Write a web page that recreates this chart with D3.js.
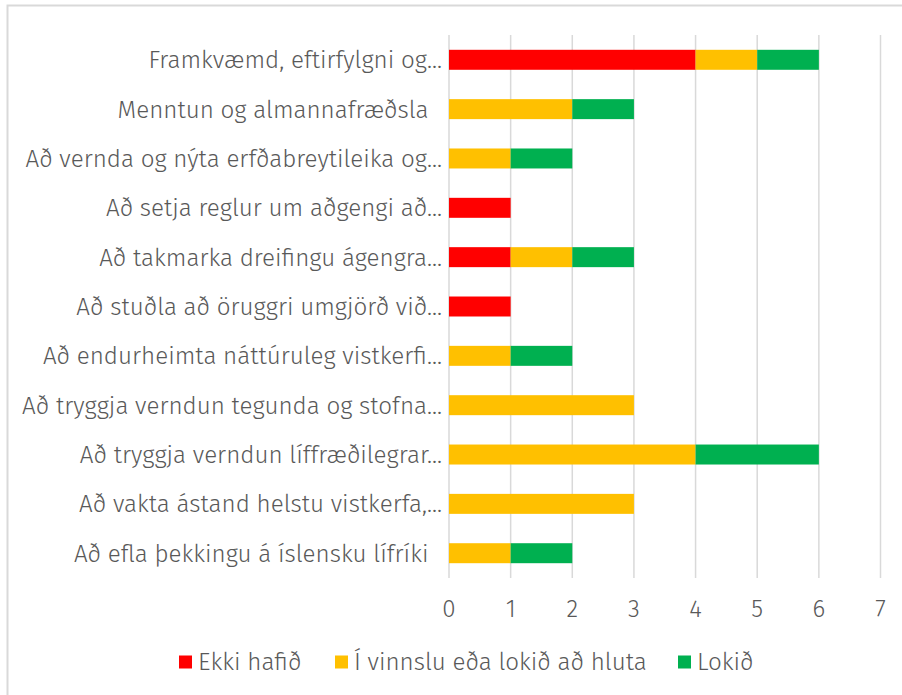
<!DOCTYPE html>
<html>
<head>
<meta charset="utf-8">
<script src="https://cdn.jsdelivr.net/npm/d3@7"></script>
<style>
  body { margin: 0; background: #fff; }
  svg { font-family: "Fira Sans", "Open Sans", "Noto Sans", sans-serif; }
  svg text { white-space: pre; }
</style>
</head>
<body>
<div class="chart"></div>
<script>
const categories = [
    "Framkvæmd, eftirfylgni og...",
    "Menntun og almannafræðsla  ",
    "Að vernda og nýta erfðabreytileika og...",
    "Að setja reglur um aðgengi að...",
    "Að takmarka dreifingu ágengra...",
    "Að stuðla að öruggri umgjörð við...",
    "Að endurheimta náttúruleg vistkerfi...",
    "Að tryggja verndun tegunda og stofna...",
    "Að tryggja verndun líffræðilegrar...",
    "Að vakta ástand helstu vistkerfa,...",
    "Að efla þekkingu á íslensku lífríki  "
]
const ekkiHafid = [4, 0, 0, 1, 1, 1, 0, 0, 0, 0, 0]
const iVinnslu  = [1, 2, 1, 0, 1, 0, 1, 3, 4, 3, 1]
const lokid     = [1, 1, 1, 0, 1, 0, 1, 0, 2, 0, 1]
const seriesNames = ["Ekki hafið", "Í vinnslu eða lokið að hluta", "Lokið"]
const seriesColors = ["#ff0000", "#ffc000", "#00b050"]
const ticks = [0, 1, 2, 3, 4, 5, 6, 7]

const width = 902
const height = 695

const rows = categories.map((c, i) => ({
    cat: c, [seriesNames[0]]: ekkiHafid[i], [seriesNames[1]]: iVinnslu[i], [seriesNames[2]]: lokid[i]
}))
const stacked = d3.stack().keys(seriesNames)(rows)

const svg = d3.select(".chart").append("svg")
    .attr("width", width)
    .attr("height", height)

svg.append("rect")
    .attr("x", 7.5).attr("y", 5.5)
    .attr("width", 910).attr("height", 710)
    .attr("fill", "none")
    .attr("stroke", "#d9d9d9")
    .attr("stroke-width", 2)

const x = d3.scaleLinear().domain([0, 7]).range([449, 880.5])
const y = d3.scaleBand().domain(categories).range([35, 578]).paddingInner(0.595).paddingOuter(0.3)

// gridlines
svg.append("g")
    .selectAll("line")
    .data(ticks)
    .join("line")
    .attr("x1", d => x(d)).attr("x2", d => x(d))
    .attr("y1", 35).attr("y2", 578)
    .attr("stroke", "#d9d9d9")
    .attr("stroke-width", 1.5)

// bars
svg.append("g")
    .selectAll("g")
    .data(stacked)
    .join("g")
    .attr("fill", (d, i) => seriesColors[i])
    .selectAll("rect")
    .data(d => d)
    .join("rect")
    .attr("x", d => x(d[0]))
    .attr("y", d => y(d.data.cat))
    .attr("width", d => x(d[1]) - x(d[0]))
    .attr("height", y.bandwidth())

const fontSize = "24.2px"

// category labels
svg.append("g")
    .selectAll("text")
    .data(categories)
    .join("text")
    .attr("x", 442)
    .attr("y", d => y(d) + y.bandwidth() / 2)
    .attr("dy", "0.35em")
    .attr("text-anchor", "end")
    .attr("fill", "#595959")
    .attr("font-size", fontSize)
    .attr("font-weight", 300)
    .text(d => d)

// x tick labels
svg.append("g")
    .selectAll("text")
    .data(ticks)
    .join("text")
    .attr("x", d => x(d))
    .attr("y", 609)
    .attr("dy", "0.35em")
    .attr("text-anchor", "middle")
    .attr("fill", "#595959")
    .attr("font-size", fontSize)
    .attr("font-weight", 300)
    .text(d => d)

// legend
const legendX = [179, 335, 678]
const legend = svg.append("g")
    .selectAll("g")
    .data(seriesNames)
    .join("g")
    .attr("transform", (d, i) => `translate(${legendX[i]},662)`)

legend.append("rect")
    .attr("x", 0).attr("y", -6.5)
    .attr("width", 13).attr("height", 13)
    .attr("fill", (d, i) => seriesColors[i])

legend.append("text")
    .attr("x", 19)
    .attr("dy", "0.35em")
    .attr("fill", "#595959")
    .attr("font-size", fontSize)
    .attr("font-weight", 300)
    .text(d => d)
</script>
</body>
</html>
